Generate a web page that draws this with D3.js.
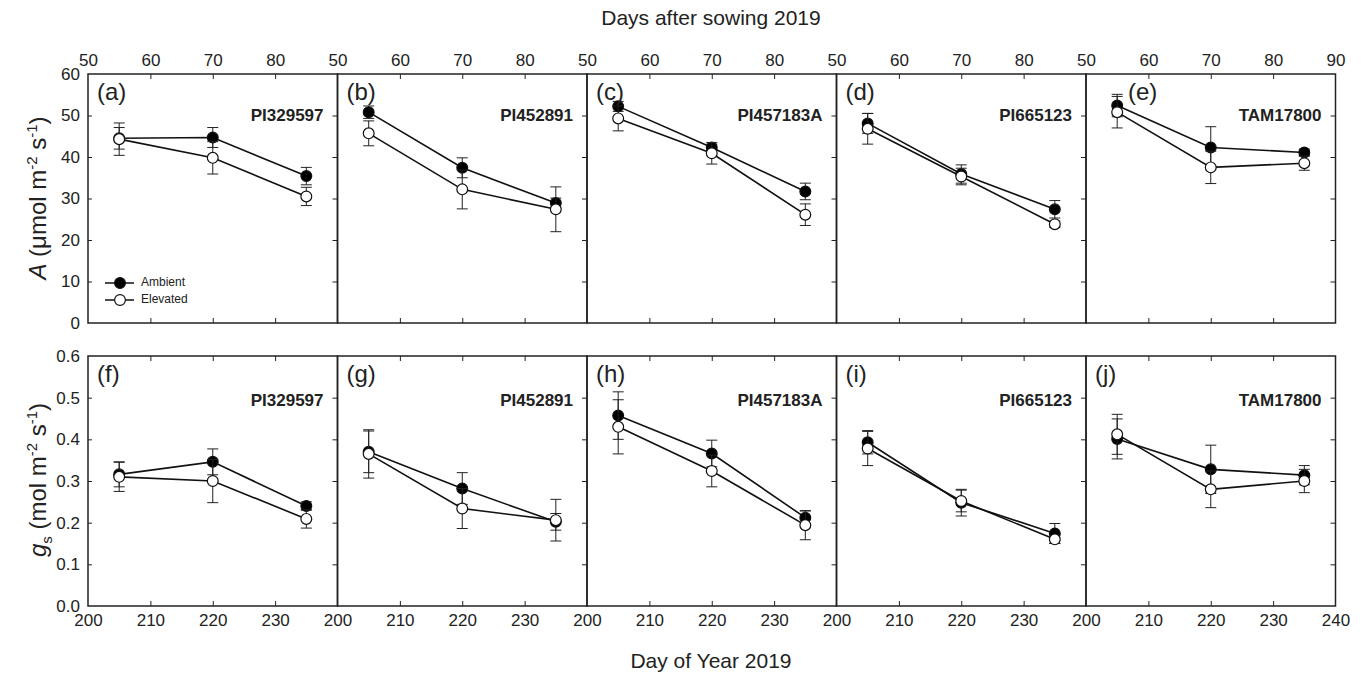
<!DOCTYPE html>
<html>
<head>
<meta charset="utf-8">
<script src="https://cdn.jsdelivr.net/npm/d3@7"></script>
<style>
  body { margin: 0; background: #fff; }
  svg { font-family: "Liberation Sans", Arial, sans-serif; }
</style>
</head>
<body>
<svg width="1363" height="676"></svg>
<script>
// genotypes and panel letters
var genotypes = ['PI329597', 'PI452891', 'PI457183A', 'PI665123', 'TAM17800'];
var topLetters = ['(a)', '(b)', '(c)', '(d)', '(e)'];
var bottomLetters = ['(f)', '(g)', '(h)', '(i)', '(j)'];

// sampling dates
var daysAfterSowing = [55, 70, 85];
var dayOfYear = [205, 220, 235];

// net photosynthesis A (umol m-2 s-1), one row per genotype
var aAmbient = [[44.5, 44.7, 35.4], [50.8, 37.4, 28.9], [52.2, 42.3, 31.7], [48.1, 35.9, 27.4], [52.4, 42.3, 41.1]];
var aAmbientErr = [[2.6, 2.4, 2.1], [1.5, 2.4, 1.2], [1.2, 0.8, 2.0], [2.4, 2.2, 2.1], [2.7, 5.0, 0.8]];
var aElevated = [[44.3, 39.8, 30.5], [45.7, 32.2, 27.4], [49.3, 40.9, 26.1], [46.8, 35.3, 23.8], [50.8, 37.5, 38.5]];
var aElevatedErr = [[3.9, 3.9, 2.2], [3.0, 4.7, 5.4], [3.0, 2.6, 2.6], [3.7, 2.0, 0.8], [3.8, 3.9, 1.7]];

// stomatal conductance gs (mol m-2 s-1)
var gsAmbient = [[0.316, 0.346, 0.240], [0.370, 0.282, 0.202], [0.457, 0.366, 0.212], [0.393, 0.248, 0.174], [0.401, 0.328, 0.314]];
var gsAmbientErr = [[0.030, 0.031, 0.010], [0.050, 0.038, 0.020], [0.057, 0.032, 0.016], [0.028, 0.032, 0.024], [0.048, 0.058, 0.023]];
var gsElevated = [[0.310, 0.300, 0.209], [0.365, 0.234, 0.206], [0.430, 0.324, 0.194], [0.378, 0.252, 0.160], [0.412, 0.280, 0.300]];
var gsElevatedErr = [[0.035, 0.052, 0.022], [0.058, 0.048, 0.050], [0.065, 0.038, 0.035], [0.041, 0.026, 0.010], [0.048, 0.044, 0.028]];

// axis ticks
var dasTicks = [50, 60, 70, 80, 90];
var doyTicks = [200, 210, 220, 230, 240];
var aTicks = [0, 10, 20, 30, 40, 50, 60];
var gsTicks = [0, 0.1, 0.2, 0.3, 0.4, 0.5, 0.6];

var svg = d3.select('svg');
svg.append('rect').attr('width', 1363).attr('height', 676).attr('fill', '#fff');

var left = 88, panelW = 249.5;
var rows = [
  {top: 74, bottom: 323, xDomain: [50, 90], xs: daysAfterSowing, xTicks: dasTicks, yDomain: [0, 60], yTicks: aTicks,
   fmt: d3.format('d'), amb: aAmbient, ambErr: aAmbientErr, ele: aElevated, eleErr: aElevatedErr, letters: topLetters, axisTop: true},
  {top: 356, bottom: 606, xDomain: [200, 240], xs: dayOfYear, xTicks: doyTicks, yDomain: [0, 0.6], yTicks: gsTicks,
   fmt: d3.format('.1f'), amb: gsAmbient, ambErr: gsAmbientErr, ele: gsElevated, eleErr: gsElevatedErr, letters: bottomLetters, axisTop: false}
];

function styleLabels(s) {
  s.select('.domain').remove();
  s.selectAll('text').attr('font-size', 17).attr('fill', '#222').attr('font-family', null);
}

rows.forEach(function(row) {
  var y = d3.scaleLinear().domain(row.yDomain).range([row.bottom, row.top]);
  genotypes.forEach(function(name, p) {
    var x0 = left + p * panelW;
    var x = d3.scaleLinear().domain(row.xDomain).range([x0, x0 + panelW]);
    var g = svg.append('g');
    var last = p === genotypes.length - 1;
    var labelTicks = row.xTicks.filter(function(t) { return last || t < row.xDomain[1]; });

    // tick labels on the outside edge
    var outer = row.axisTop ? d3.axisTop(x) : d3.axisBottom(x);
    g.append('g')
      .attr('transform', 'translate(0,' + (row.axisTop ? row.top : row.bottom) + ')')
      .call(outer.tickValues(labelTicks).tickSize(0).tickPadding(8))
      .call(styleLabels);

    // inward ticks top and bottom
    var inner = row.xTicks.slice(1, -1);
    g.append('g').attr('transform', 'translate(0,' + row.top + ')')
      .call(d3.axisTop(x).tickValues(inner).tickSize(-5).tickFormat(''))
      .call(function(s) { s.select('.domain').remove(); });
    g.append('g').attr('transform', 'translate(0,' + row.bottom + ')')
      .call(d3.axisBottom(x).tickValues(inner).tickSize(-5).tickFormat(''))
      .call(function(s) { s.select('.domain').remove(); });

    // right ticks, inward
    g.append('g').attr('transform', 'translate(' + (x0 + panelW) + ',0)')
      .call(d3.axisRight(y).tickValues(row.yTicks.slice(1, -1)).tickSize(-5).tickFormat(''))
      .call(function(s) { s.select('.domain').remove(); });

    if (p === 0) {
      g.append('g').attr('transform', 'translate(' + x0 + ',0)')
        .call(d3.axisLeft(y).tickValues(row.yTicks).tickSize(0).tickPadding(8).tickFormat(row.fmt))
        .call(styleLabels);
      g.append('g').attr('transform', 'translate(' + x0 + ',0)')
        .call(d3.axisRight(y).tickValues(row.yTicks.slice(1, -1)).tickSize(4).tickFormat(''))
        .call(function(s) { s.select('.domain').remove(); });
    }
    g.selectAll('.tick line').attr('stroke', '#222');

    g.append('rect')
      .attr('x', x0).attr('y', row.top).attr('width', panelW).attr('height', row.bottom - row.top)
      .attr('fill', 'none').attr('stroke', '#222').attr('stroke-width', 1.5);

    // series: ambient first, elevated drawn over it
    var series = [
      {vals: row.amb[p], errs: row.ambErr[p], fill: '#000'},
      {vals: row.ele[p], errs: row.eleErr[p], fill: '#fff'}
    ];
    var line = d3.line().x(function(d) { return x(d[0]); }).y(function(d) { return y(d[1]); });
    series.forEach(function(s) {
      var pts = row.xs.map(function(v, i) { return [v, s.vals[i], s.errs[i]]; });
      var eb = g.append('g').attr('stroke', '#222').attr('stroke-width', 1);
      pts.forEach(function(d) {
        var cx = x(d[0]);
        eb.append('line').attr('x1', cx).attr('x2', cx).attr('y1', y(d[1] - d[2])).attr('y2', y(d[1] + d[2]));
        [d[1] - d[2], d[1] + d[2]].forEach(function(v) {
          eb.append('line').attr('x1', cx - 5.5).attr('x2', cx + 5.5).attr('y1', y(v)).attr('y2', y(v));
        });
      });
      g.append('path').datum(pts).attr('d', line).attr('fill', 'none').attr('stroke', '#111').attr('stroke-width', 1.6);
      g.selectAll(null).data(pts).enter().append('circle')
        .attr('cx', function(d) { return x(d[0]); })
        .attr('cy', function(d) { return y(d[1]); })
        .attr('r', 5.4)
        .attr('fill', s.fill).attr('stroke', '#111').attr('stroke-width', 1.2);
    });

    // panel (e) letter sits right of its first point
    var letterX = (row.axisTop && last) ? x0 + 42 : x0 + 9;
    g.append('text').attr('x', letterX).attr('y', row.top + 20).attr('font-size', 24).attr('fill', '#222')
      .attr('dominant-baseline', 'middle').text(row.letters[p]);
    g.append('text').attr('x', x0 + panelW - 14).attr('y', row.top + (row.axisTop ? 43 : 46))
      .attr('font-size', 17).attr('font-weight', 'bold').attr('text-anchor', 'end').attr('fill', '#222')
      .attr('dominant-baseline', 'middle').text(name);
  });
});

// legend in panel (a)
var legend = [{label: 'Ambient', fill: '#000', y: 283}, {label: 'Elevated', fill: '#fff', y: 300}];
legend.forEach(function(l) {
  svg.append('line').attr('x1', 105).attr('x2', 134).attr('y1', l.y).attr('y2', l.y).attr('stroke', '#111').attr('stroke-width', 1.5);
  svg.append('circle').attr('cx', 120).attr('cy', l.y).attr('r', 5.4).attr('fill', l.fill).attr('stroke', '#111').attr('stroke-width', 1.2);
  svg.append('text').attr('x', 141).attr('y', l.y).attr('dominant-baseline', 'middle').attr('font-size', 12).attr('fill', '#222').text(l.label);
});

// titles
svg.append('text').attr('x', 711).attr('y', 19).attr('text-anchor', 'middle').attr('dominant-baseline', 'middle')
  .attr('font-size', 21).attr('fill', '#222').text('Days after sowing 2019');
svg.append('text').attr('x', 711).attr('y', 662).attr('text-anchor', 'middle').attr('dominant-baseline', 'middle')
  .attr('font-size', 21).attr('fill', '#222').text('Day of Year 2019');

var yl1 = svg.append('text').attr('transform', 'translate(46,198) rotate(-90)').attr('text-anchor', 'middle')
  .attr('font-size', 24).attr('fill', '#222');
yl1.append('tspan').attr('font-style', 'italic').text('A');
yl1.append('tspan').text(' (\u03bcmol m');
yl1.append('tspan').attr('dy', -9).attr('font-size', 15).text('-2');
yl1.append('tspan').attr('dy', 9).text(' s');
yl1.append('tspan').attr('dy', -9).attr('font-size', 15).text('-1');
yl1.append('tspan').attr('dy', 9).text(')');

var yl2 = svg.append('text').attr('transform', 'translate(46,480) rotate(-90)').attr('text-anchor', 'middle')
  .attr('font-size', 24).attr('fill', '#222');
yl2.append('tspan').attr('font-style', 'italic').text('g');
yl2.append('tspan').attr('dy', 6).attr('font-size', 15).text('s');
yl2.append('tspan').attr('dy', -6).text(' (mol m');
yl2.append('tspan').attr('dy', -9).attr('font-size', 15).text('-2');
yl2.append('tspan').attr('dy', 9).text(' s');
yl2.append('tspan').attr('dy', -9).attr('font-size', 15).text('-1');
yl2.append('tspan').attr('dy', 9).text(')');
</script>
</body>
</html>
